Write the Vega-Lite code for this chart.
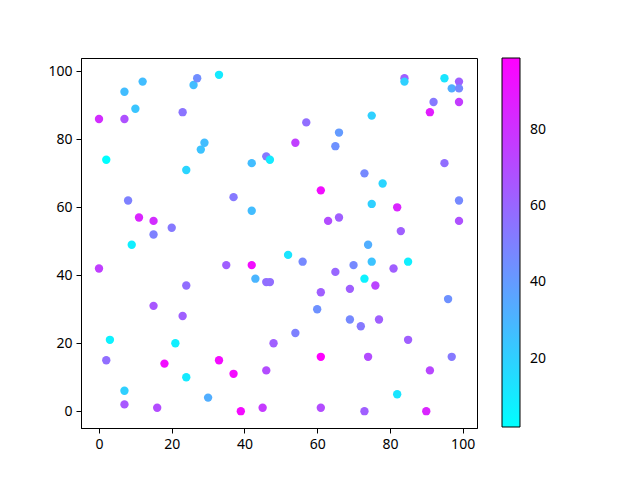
{
  "$schema": "https://vega.github.io/schema/vega-lite/v6.json",
  "width": 396,
  "height": 370,
  "autosize": {"type": "none"},
  "padding": {"left": 81, "top": 58, "right": 163, "bottom": 52},
  "background": "white",
  "config": {
    "view": {"stroke": "black", "strokeWidth": 1},
    "font": "Noto Sans",
    "axis": {
      "grid": false,
      "domainColor": "black",
      "tickColor": "black",
      "tickSize": 5,
      "tickWidth": 1,
      "labelColor": "black",
      "labelFontSize": 14,
      "labelPadding": 4,
      "title": null
    }
  },
  "data": {
    "values": [
      {"x": 0, "y": 86, "c": 82}, {"x": 2, "y": 74, "c": 2}, {"x": 7, "y": 94, "c": 27},
      {"x": 7, "y": 86, "c": 68}, {"x": 10, "y": 89, "c": 24}, {"x": 12, "y": 97, "c": 27},
      {"x": 8, "y": 62, "c": 50}, {"x": 11, "y": 57, "c": 85}, {"x": 9, "y": 49, "c": 8},
      {"x": 15, "y": 56, "c": 82}, {"x": 15, "y": 52, "c": 50}, {"x": 20, "y": 54, "c": 53},
      {"x": 23, "y": 88, "c": 55}, {"x": 24, "y": 71, "c": 18}, {"x": 26, "y": 96, "c": 27},
      {"x": 27, "y": 98, "c": 45}, {"x": 28, "y": 77, "c": 25}, {"x": 29, "y": 79, "c": 27},
      {"x": 33, "y": 99, "c": 10}, {"x": 37, "y": 63, "c": 53}, {"x": 42, "y": 73, "c": 27},
      {"x": 42, "y": 59, "c": 27}, {"x": 46, "y": 75, "c": 53}, {"x": 47, "y": 74, "c": 10},
      {"x": 57, "y": 85, "c": 57}, {"x": 54, "y": 79, "c": 75}, {"x": 66, "y": 82, "c": 40},
      {"x": 65, "y": 78, "c": 44}, {"x": 75, "y": 87, "c": 20}, {"x": 84, "y": 98, "c": 63},
      {"x": 84, "y": 97, "c": 20}, {"x": 95, "y": 98, "c": 12}, {"x": 99, "y": 97, "c": 63},
      {"x": 97, "y": 95, "c": 33}, {"x": 99, "y": 95, "c": 47}, {"x": 92, "y": 91, "c": 53},
      {"x": 99, "y": 91, "c": 76}, {"x": 91, "y": 88, "c": 88}, {"x": 95, "y": 73, "c": 57},
      {"x": 73, "y": 70, "c": 47}, {"x": 78, "y": 67, "c": 18}, {"x": 61, "y": 65, "c": 94},
      {"x": 75, "y": 61, "c": 20}, {"x": 82, "y": 60, "c": 85}, {"x": 99, "y": 62, "c": 47},
      {"x": 63, "y": 56, "c": 70}, {"x": 66, "y": 57, "c": 63}, {"x": 99, "y": 56, "c": 68},
      {"x": 83, "y": 53, "c": 63}, {"x": 74, "y": 49, "c": 33},
      {"x": 0, "y": 42, "c": 75}, {"x": 35, "y": 43, "c": 63}, {"x": 42, "y": 43, "c": 94},
      {"x": 43, "y": 39, "c": 30}, {"x": 46, "y": 38, "c": 57}, {"x": 47, "y": 38, "c": 57},
      {"x": 24, "y": 37, "c": 57}, {"x": 15, "y": 31, "c": 66}, {"x": 23, "y": 28, "c": 63},
      {"x": 3, "y": 21, "c": 7}, {"x": 21, "y": 20, "c": 8}, {"x": 48, "y": 20, "c": 63},
      {"x": 2, "y": 15, "c": 57}, {"x": 18, "y": 14, "c": 94}, {"x": 33, "y": 15, "c": 95},
      {"x": 37, "y": 11, "c": 95}, {"x": 46, "y": 12, "c": 70}, {"x": 24, "y": 10, "c": 10},
      {"x": 7, "y": 6, "c": 20}, {"x": 30, "y": 4, "c": 33}, {"x": 7, "y": 2, "c": 66},
      {"x": 16, "y": 1, "c": 70}, {"x": 39, "y": 0, "c": 95}, {"x": 45, "y": 1, "c": 77},
      {"x": 52, "y": 46, "c": 12}, {"x": 56, "y": 44, "c": 47}, {"x": 70, "y": 43, "c": 47},
      {"x": 75, "y": 44, "c": 25}, {"x": 85, "y": 44, "c": 8}, {"x": 65, "y": 41, "c": 60},
      {"x": 81, "y": 42, "c": 63}, {"x": 73, "y": 39, "c": 7}, {"x": 76, "y": 37, "c": 73},
      {"x": 69, "y": 36, "c": 63}, {"x": 61, "y": 35, "c": 63}, {"x": 96, "y": 33, "c": 44},
      {"x": 60, "y": 30, "c": 44}, {"x": 69, "y": 27, "c": 47}, {"x": 77, "y": 27, "c": 63},
      {"x": 72, "y": 25, "c": 53}, {"x": 54, "y": 23, "c": 50}, {"x": 85, "y": 21, "c": 63},
      {"x": 61, "y": 16, "c": 99}, {"x": 74, "y": 16, "c": 70}, {"x": 97, "y": 16, "c": 53},
      {"x": 91, "y": 12, "c": 72}, {"x": 82, "y": 5, "c": 12}, {"x": 61, "y": 1, "c": 70},
      {"x": 73, "y": 0, "c": 63}, {"x": 90, "y": 0, "c": 85}
    ]
  },
  "mark": {"type": "circle", "size": 70, "opacity": 1},
  "encoding": {
    "x": {
      "field": "x",
      "type": "quantitative",
      "scale": {"domain": [-4.95, 103.95], "nice": false, "zero": false},
      "axis": {"values": [0, 20, 40, 60, 80, 100]}
    },
    "y": {
      "field": "y",
      "type": "quantitative",
      "scale": {"domain": [-4.95, 103.95], "nice": false, "zero": false},
      "axis": {"values": [0, 20, 40, 60, 80, 100]}
    },
    "color": {
      "field": "c",
      "type": "quantitative",
      "scale": {"domain": [2, 99], "range": ["#00ffff", "#ff00ff"], "interpolate": "rgb"},
      "legend": {
        "title": null,
        "orient": "none",
        "direction": "vertical",
        "legendX": 421,
        "legendY": 0,
        "gradientLength": 369,
        "gradientThickness": 18,
        "gradientStrokeColor": "black",
        "gradientStrokeWidth": 1,
        "values": [20, 40, 60, 80],
        "labelOverlap": false,
        "labelFontSize": 14,
        "labelColor": "black",
        "labelOffset": 10
      }
    }
  }
}
